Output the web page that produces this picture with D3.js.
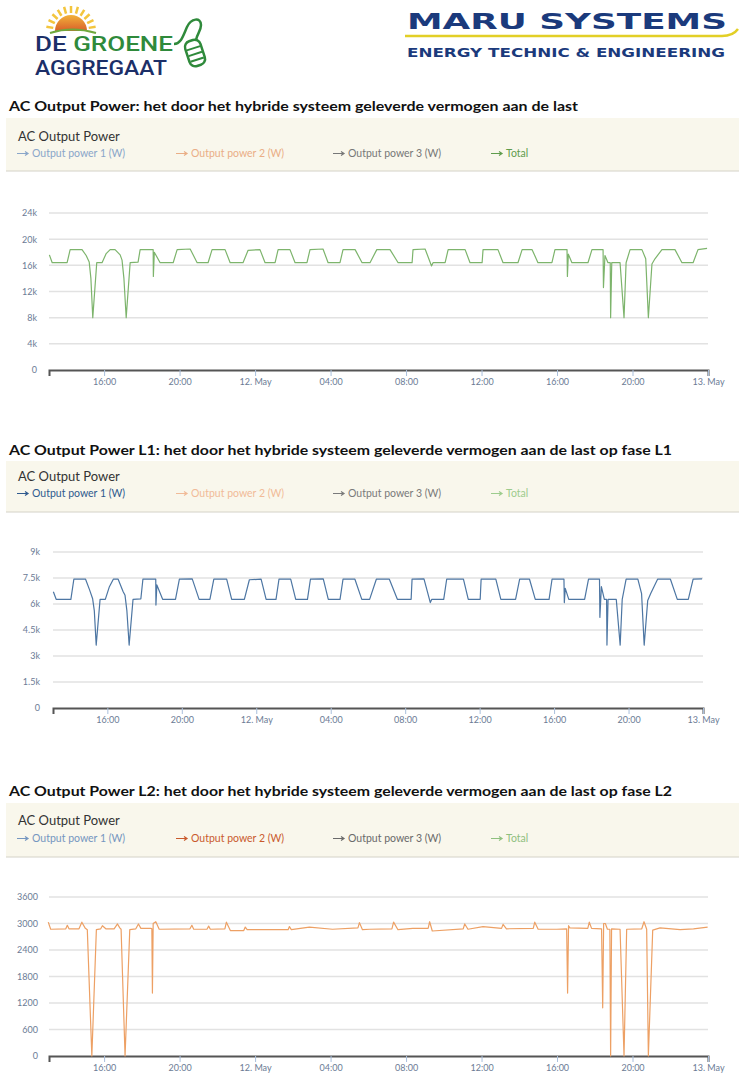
<!DOCTYPE html>
<html lang="nl">
<head>
<meta charset="UTF-8">
<title>AC Output Power</title>
<style>
  html, body { margin: 0; padding: 0; background: #fff; }
  svg { display: block; }
  .title { font: bold 14px Lato, sans-serif; fill: #111; }
  .head { font: 13px Lato, sans-serif; fill: #333; }
  .leg { font: 10.5px Lato, sans-serif; }
  .yax text, .xax text { font: 9px Lato, sans-serif; fill: #6b7b95; }
</style>
</head>
<body>
<script src="https://cdn.jsdelivr.net/npm/d3@7"></script>
<script>
// ---- data ----
const panelTitles = [
  "AC Output Power: het door het hybride systeem geleverde vermogen aan de last",
  "AC Output Power L1: het door het hybride systeem geleverde vermogen aan de last op fase L1",
  "AC Output Power L2: het door het hybride systeem geleverde vermogen aan de last op fase L2"
];
const chartTitle = "AC Output Power";
const seriesNames = ["Output power 1 (W)", "Output power 2 (W)", "Output power 3 (W)", "Total"];

// x values are hours counted from 11 May 00:00
const startHour = 13.08;
const endHour = 48;

const totalTicks = [0, 4000, 8000, 12000, 16000, 20000, 24000];
const totalTickLabels = ["0", "4k", "8k", "12k", "16k", "20k", "24k"];
const power1Ticks = [0, 1500, 3000, 4500, 6000, 7500, 9000];
const power1TickLabels = ["0", "1.5k", "3k", "4.5k", "6k", "7.5k", "9k"];
const power2Ticks = [0, 600, 1200, 1800, 2400, 3000, 3600];
const power2TickLabels = ["0", "600", "1200", "1800", "2400", "3000", "3600"];

const totalW = [
  [13.10,17600],[13.25,16400],[14.04,16400],[14.20,18400],[14.83,18400],[15.05,17500],[15.21,16500],
  [15.30,14000],[15.40,8000],[15.61,16400],[15.89,16400],[16.11,17800],[16.32,18400],[16.58,18400],
  [16.85,17600],[16.95,16800],[17.05,14000],[17.17,8000],[17.38,16400],[17.80,16500],[17.91,18400],
  [18.60,18400],[18.61,14300],[18.66,18000],[18.97,16400],[19.66,16400],[19.87,18400],[20.56,18500],
  [20.93,16400],[21.51,16400],[21.72,18400],[22.41,18400],[22.68,16400],[23.36,16400],[23.63,18300],
  [24.26,18400],[24.53,16400],[25.06,16400],[25.22,18400],[25.85,18400],[26.12,16400],[26.75,16400],
  [26.91,18400],[27.60,18500],[27.87,16400],[28.50,16400],[28.66,18400],[29.30,18400],[29.67,16400],
  [30.09,16400],[30.45,18400],[31.15,18400],[31.58,16400],[32.32,16400],[32.37,18400],[33.01,18500],
  [33.35,15900],[33.43,16400],[34.07,16400],[34.23,18400],[35.13,18400],[35.39,16400],[36.03,16400],
  [36.08,18400],[36.87,18400],[37.14,16400],[37.93,16400],[38.15,18400],[38.68,18400],[38.99,16400],
  [39.73,16400],[39.89,18400],[40.53,18400],[40.55,14300],[40.60,17700],[40.79,16400],[41.64,16400],
  [41.85,18400],[42.44,18400],[42.46,12600],[42.54,17500],[42.70,16400],[42.82,16400],[42.84,8000],
  [42.90,16400],[43.34,16400],[43.55,8000],[43.66,16400],[43.87,18400],[44.50,18400],[44.70,17000],
  [44.84,8000],[45.03,16200],[45.19,17000],[45.56,18400],[46.25,18400],[46.62,16400],[47.21,16400],
  [47.47,18400],[47.95,18600]
];

const power1W = [
  [13.10,6710],[13.25,6270],[14.04,6270],[14.20,7430],[14.83,7430],[15.05,6800],[15.21,6300],
  [15.30,5600],[15.40,3630],[15.61,6270],[15.89,6270],[16.11,7000],[16.32,7430],[16.58,7430],
  [16.85,6710],[16.95,6500],[17.05,5600],[17.17,3630],[17.38,6270],[17.80,6300],[17.91,7430],
  [18.60,7430],[18.61,5940],[18.66,7100],[18.97,6270],[19.66,6270],[19.87,7430],[20.56,7450],
  [20.93,6270],[21.51,6270],[21.72,7430],[22.41,7430],[22.68,6270],[23.36,6270],[23.63,7400],
  [24.26,7430],[24.53,6270],[25.06,6270],[25.22,7430],[25.85,7430],[26.12,6270],[26.75,6270],
  [26.91,7430],[27.60,7450],[27.87,6270],[28.50,6270],[28.66,7430],[29.30,7430],[29.67,6270],
  [30.09,6270],[30.45,7430],[31.15,7430],[31.58,6270],[32.32,6270],[32.37,7430],[33.01,7450],
  [33.35,6080],[33.43,6270],[34.07,6270],[34.23,7430],[35.13,7430],[35.39,6270],[36.03,6270],
  [36.08,7430],[36.87,7430],[37.14,6270],[37.93,6270],[38.15,7430],[38.68,7430],[38.99,6270],
  [39.73,6270],[39.89,7430],[40.53,7430],[40.55,6080],[40.60,6900],[40.79,6270],[41.64,6270],
  [41.85,7430],[42.44,7430],[42.46,5230],[42.54,7000],[42.70,6270],[42.82,6270],[42.84,3630],
  [42.90,6270],[43.34,6270],[43.55,3630],[43.66,6270],[43.87,7430],[44.50,7430],[44.70,6600],
  [44.84,3630],[45.03,6200],[45.19,6600],[45.56,7430],[46.25,7430],[46.62,6270],[47.21,6270],
  [47.47,7430],[47.95,7450]
];

const power2W = [
  [13.04,3030],[13.17,2870],[13.97,2880],[14.05,2960],[14.14,2880],[14.67,2880],[14.82,3030],
  [14.99,2900],[15.11,2860],[15.35,0],[15.59,2860],[15.82,2880],[15.91,2950],[16.09,2880],
  [16.53,2880],[16.71,2990],[16.83,2900],[16.90,2870],[17.11,0],[17.36,2860],[17.68,2880],
  [17.82,2990],[17.95,2890],[18.48,2890],[18.53,2880],[18.56,1425],[18.60,3000],[18.74,3040],
  [18.92,2870],[20.55,2880],[20.65,2960],[20.75,2870],[21.45,2870],[21.54,2940],[21.63,2870],
  [22.40,2880],[22.48,3030],[22.69,2840],[23.40,2840],[23.48,2920],[23.58,2860],[25.75,2860],
  [25.82,2930],[25.92,2860],[26.88,2920],[28.10,2870],[29.45,2900],[29.53,3020],[29.69,2860],
  [30.07,2870],[31.25,2880],[31.34,3030],[31.57,2860],[32.36,2890],[33.17,2890],[33.25,3040],
  [33.39,2830],[35.03,2880],[35.11,2990],[35.28,2870],[36.08,2930],[37.06,2890],[37.14,2980],
  [37.32,2880],[38.74,2890],[38.82,3030],[39.00,2870],[39.98,2870],[40.51,2880],[40.56,1425],
  [40.61,2950],[40.68,2900],[41.63,2890],[41.71,3030],[41.83,2890],[42.36,2880],[42.42,1090],
  [42.47,3000],[42.56,3000],[42.67,2870],[42.80,2870],[42.84,0],[42.89,2880],[43.34,2870],
  [43.55,0],[43.69,2870],[44.49,2880],[44.61,3040],[44.75,2870],[44.84,0],[45.07,2850],
  [45.46,2900],[46.52,2860],[47.23,2880],[47.98,2920]
];

// ---- styles ----
const legendColors = [
  ["#8aa6c9", "#eaae86", "#777777", "#5f9c4c"],
  ["#2f5a8e", "#f1bb98", "#7a7a7a", "#9dcc8d"],
  ["#7596c0", "#c95a2c", "#6a6a6a", "#8fc07f"]
];
const legendX = [17, 176, 333, 491];

const base = new Date(2023, 4, 11, 0, 0);
const toDate = h => new Date(base.getTime() + h * 3600000);
const fmtHour = d3.timeFormat("%H:%M");
const fmtDay = d3.timeFormat("%-d. %b");
const fmtTick = d => d.getHours() === 0 ? fmtDay(d) : fmtHour(d);

const svg = d3.select("body").append("svg")
  .attr("width", 739)
  .attr("height", 1073);

// ---- logos ----
function drawLogos() {
  const navy = "#1c2f68";
  const green = "#2f8a3b";
  const lg = svg.append("g");

  const grad = svg.append("defs").append("linearGradient")
    .attr("id", "sun").attr("x1", 0).attr("y1", 0).attr("x2", 0).attr("y2", 1);
  grad.append("stop").attr("offset", 0).attr("stop-color", "#f2b13a");
  grad.append("stop").attr("offset", 1).attr("stop-color", "#d8602a");

  const cx = 71, cy = 31;
  for (let a = -170; a <= -10; a += 16) {
    const r = a * Math.PI / 180;
    lg.append("line")
      .attr("x1", cx + Math.cos(r) * 18).attr("y1", cy + Math.sin(r) * 18)
      .attr("x2", cx + Math.cos(r) * 25).attr("y2", cy + Math.sin(r) * 25)
      .attr("stroke", "#f3c53d").attr("stroke-width", 2.5);
  }
  lg.append("path")
    .attr("d", `M${cx - 16},${cy} A16,16 0 0 1 ${cx + 16},${cy} Z`)
    .attr("fill", "url(#sun)");
  lg.append("path")
    .attr("d", "M50,33 Q72,26 96,33")
    .attr("fill", "none").attr("stroke", "#6fa83c").attr("stroke-width", 2);

  const t1 = lg.append("text")
    .attr("x", 35).attr("y", 51)
    .attr("textLength", 138).attr("lengthAdjust", "spacingAndGlyphs")
    .style("font", "500 20px Roboto, sans-serif");
  t1.append("tspan").attr("fill", navy).text("DE ");
  t1.append("tspan").attr("fill", green).text("GROENE");
  lg.append("text")
    .attr("x", 35).attr("y", 75)
    .attr("textLength", 132).attr("lengthAdjust", "spacingAndGlyphs")
    .attr("fill", navy)
    .style("font", "500 20px Roboto, sans-serif")
    .text("AGGREGAAT");

  // plug
  lg.append("path")
    .attr("d", "M174,44 C181,44 183,36 187,27 C191,18 201,17 201,25 C201,31 197,34 196,40")
    .attr("fill", "none").attr("stroke", green).attr("stroke-width", 2.5);
  const plug = lg.append("g").attr("transform", "translate(195,53) rotate(-18)");
  plug.append("rect")
    .attr("x", -8).attr("y", -13).attr("width", 16).attr("height", 26).attr("rx", 6)
    .attr("fill", "none").attr("stroke", green).attr("stroke-width", 2.5);
  [-5, 1, 7].forEach(v => plug.append("line")
    .attr("x1", -7).attr("x2", 7).attr("y1", v).attr("y2", v)
    .attr("stroke", green).attr("stroke-width", 2));

  const mb = "#1b3a7c";
  svg.append("text")
    .attr("x", 407).attr("y", 29)
    .attr("textLength", 320).attr("lengthAdjust", "spacingAndGlyphs")
    .attr("fill", mb)
    .style("font", "bold 22px 'DejaVu Sans', sans-serif")
    .text("MARU SYSTEMS");
  svg.append("path")
    .attr("d", "M405,36 L722,36 Q733,36 738,29")
    .attr("fill", "none").attr("stroke", "#e2cf26").attr("stroke-width", 2.5);
  svg.append("text")
    .attr("x", 407).attr("y", 57)
    .attr("textLength", 318).attr("lengthAdjust", "spacingAndGlyphs")
    .attr("fill", mb)
    .style("font", "bold 11.5px 'DejaVu Sans', sans-serif")
    .text("ENERGY TECHNIC & ENGINEERING");
}

// ---- one panel: title, header with legend, line chart ----
function drawPanel(p) {
  const g = svg.append("g");

  g.append("text")
    .attr("class", "title")
    .attr("x", 9).attr("y", p.titleY)
    .attr("textLength", p.titleLen).attr("lengthAdjust", "spacingAndGlyphs")
    .text(p.title);

  g.append("rect")
    .attr("x", 6).attr("y", p.box[0])
    .attr("width", 733).attr("height", p.box[1] - p.box[0])
    .attr("fill", "#f9f7ec");
  g.append("line")
    .attr("x1", 6).attr("x2", 739).attr("y1", p.box[1]).attr("y2", p.box[1])
    .attr("stroke", "#d4d2c8");

  g.append("text").attr("class", "head")
    .attr("x", 18).attr("y", p.headY)
    .text(chartTitle);

  const leg = g.selectAll(".legitem")
    .data(seriesNames)
    .join("g")
    .attr("class", "legitem")
    .attr("transform", (d, i) => `translate(${legendX[i]},${p.legY})`);
  leg.append("path")
    .attr("d", "M0,-3.5 H11 M8,-5.5 L11,-3.5 L8,-1.5")
    .attr("fill", "none")
    .attr("stroke", (d, i) => p.legColors[i])
    .attr("stroke-width", 1.2);
  leg.append("text")
    .attr("class", "leg")
    .attr("x", 15)
    .attr("fill", (d, i) => p.legColors[i])
    .text(d => d);

  const x = d3.scaleTime()
    .domain([toDate(startHour), toDate(endHour)])
    .range(p.xr);
  const y = d3.scaleLinear()
    .domain([0, p.ticks[p.ticks.length - 1]])
    .range(p.yr);

  g.append("g")
    .selectAll("line")
    .data(p.ticks.slice(1))
    .join("line")
    .attr("x1", p.xr[0]).attr("x2", p.xr[1])
    .attr("y1", d => y(d)).attr("y2", d => y(d))
    .attr("stroke", "#e2e2e2")
    .attr("stroke-width", 1.5);

  const yax = g.append("g")
    .attr("class", "yax")
    .attr("transform", `translate(${p.xr[0]},0)`)
    .call(d3.axisLeft(y)
      .tickValues(p.ticks)
      .tickFormat((d, i) => p.labels[i])
      .tickSize(0)
      .tickPadding(p.yPad));
  yax.select(".domain").remove();

  const xax = g.append("g")
    .attr("class", "xax")
    .attr("transform", `translate(0,${p.yr[0]})`)
    .call(d3.axisBottom(x)
      .ticks(d3.timeHour.every(4))
      .tickFormat(fmtTick)
      .tickSize(6)
      .tickPadding(3));
  xax.select(".domain").attr("stroke", "#555").attr("stroke-width", 2);
  xax.selectAll(".tick line").attr("stroke", "#a9bfdc");

  const line = d3.line()
    .x(d => x(toDate(d[0])))
    .y(d => y(d[1]));

  g.append("path")
    .datum(p.data)
    .attr("fill", "none")
    .attr("stroke", p.color)
    .attr("stroke-width", 1.2)
    .attr("stroke-linejoin", "round")
    .attr("d", line);
}

drawLogos();

drawPanel({
  title: panelTitles[0], titleY: 111, titleLen: 569,
  box: [118, 171], headY: 141, legY: 157,
  legColors: legendColors[0],
  xr: [49, 708], yr: [370, 213], yPad: 12,
  ticks: totalTicks, labels: totalTickLabels,
  data: totalW, color: "#7db46c"
});

drawPanel({
  title: panelTitles[1], titleY: 455, titleLen: 663,
  box: [461, 512], headY: 481, legY: 497,
  legColors: legendColors[1],
  xr: [53, 703], yr: [708, 552], yPad: 13,
  ticks: power1Ticks, labels: power1TickLabels,
  data: power1W, color: "#4d76a3"
});

drawPanel({
  title: panelTitles[2], titleY: 796, titleLen: 663,
  box: [803, 857], headY: 825, legY: 842,
  legColors: legendColors[2],
  xr: [49, 708], yr: [1056, 897], yPad: 11,
  ticks: power2Ticks, labels: power2TickLabels,
  data: power2W, color: "#eda064"
});
</script>
</body>
</html>
